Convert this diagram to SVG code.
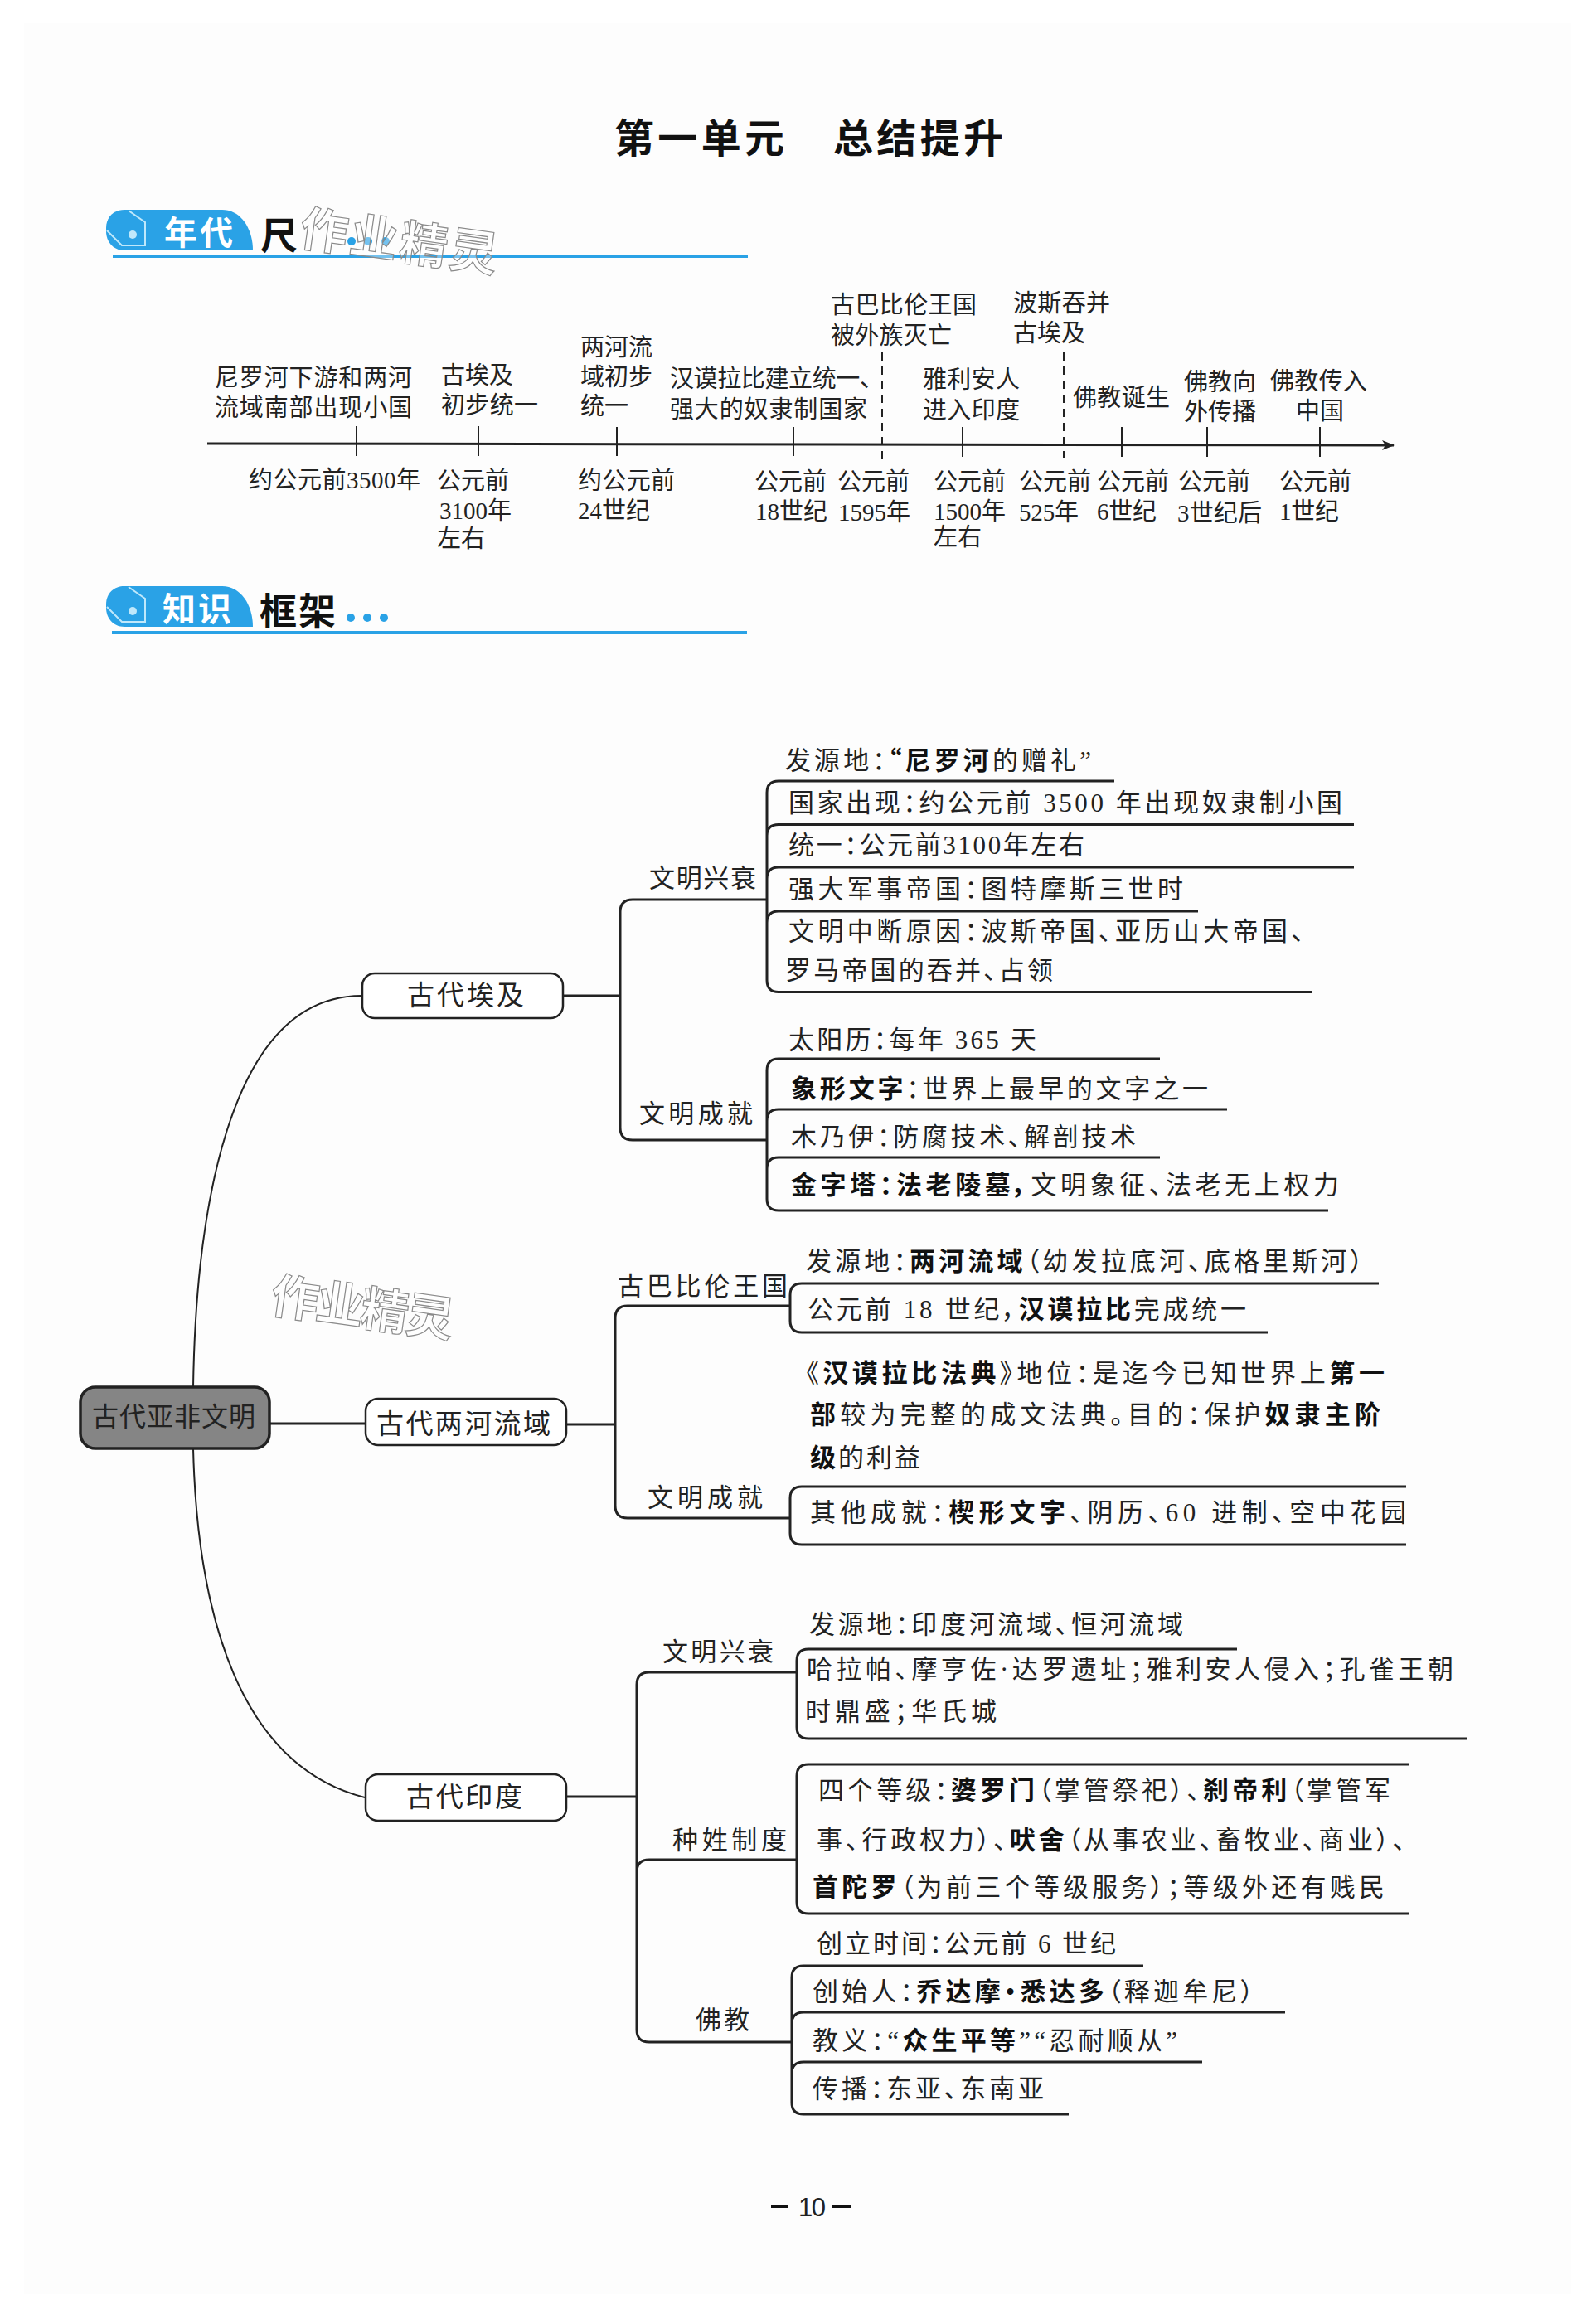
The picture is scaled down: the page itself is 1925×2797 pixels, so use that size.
<svg xmlns="http://www.w3.org/2000/svg" width="1925" height="2797" viewBox="0 0 1925 2797">
<style>
text{font-family:"Liberation Serif","Noto Sans CJK SC",serif;fill:#222}
.t{font-size:29px}
.i{font-size:31px;font-feature-settings:"palt"}
.n{font-size:33px}
.b{font-weight:700;font-family:"Noto Sans CJK SC",sans-serif;fill:#111}
.l{fill:none;stroke:#222;stroke-width:3}
.k{fill:none;stroke:#222;stroke-width:2}
.box{fill:#fff;stroke:#222;stroke-width:2.5}
.bl{fill:#2aa2e6}
.wm{font-family:"Noto Sans CJK SC",sans-serif;font-weight:700;font-size:58px;fill:#fff;fill-opacity:.35;stroke:#8a8a8a;stroke-width:1.2}
.h{font-family:"Noto Sans CJK SC",sans-serif;font-weight:700;font-size:45px;fill:#111}
.hw{font-family:"Noto Sans CJK SC",sans-serif;font-weight:700;font-size:40px;fill:#fff}
</style>
<defs>
<marker id="arr" markerWidth="16" markerHeight="12" refX="14" refY="6" orient="auto" markerUnits="userSpaceOnUse"><path d="M0 0L15 6L0 12L4 6Z" fill="#222"/></marker>
<g id="tag"><path class="bl" d="M150 0H268C290 0 305 22 305 49H150C136 49 128 38 128 26V22C128 8 138 0 150 0Z"/><path d="M155 1L175 15V43H147L129 25" fill="none" stroke="#bfe8fb" stroke-width="2"/><circle cx="160" cy="30" r="5" fill="#bfe8fb"/></g>
</defs>
<rect width="1925" height="2797" fill="#fff"/>
<rect x="29" y="28" width="1866" height="2739" fill="#fdfdfd"/>

<g id="title"><text x="741" y="184" textLength="205" class="b" style="font-size:48px">第一单元</text><text x="1005" y="184" textLength="205" class="b" style="font-size:48px">总结提升</text></g>

<g id="header1">
<use href="#tag" y="253"/>
<rect x="136" y="307" width="766" height="4" class="bl"/>
<circle cx="424" cy="291" r="5" class="bl"/><circle cx="444" cy="291" r="5" class="bl"/><circle cx="465" cy="291" r="5" class="bl"/>
<text x="198" y="295" textLength="83" class="hw">年代</text>
<text x="314" y="301" class="h">尺</text>
<text x="360" y="312" textLength="240" class="wm" transform="rotate(8 480 300)">作业精灵</text>
</g>
<g id="header2">
<use href="#tag" y="707"/>
<rect x="135" y="761" width="766" height="4" class="bl"/>
<text x="196" y="749" textLength="83" class="hw">知识</text>
<text x="313" y="754" textLength="92" class="h">框架</text>
<circle cx="423" cy="745" r="5" class="bl"/><circle cx="443" cy="745" r="5" class="bl"/><circle cx="463" cy="745" r="5" class="bl"/>
</g>

<g id="timeline">
<path class="l" d="M250 535L1681 537" marker-end="url(#arr)"/>
<path class="k" d="M430 514V550M577 514V550M744 515V550M957 515V550M1161 515V551M1353 515V551M1456 515V551M1592 515V551"/>
<path class="k" d="M1064 425V555M1283 425V553" stroke-dasharray="10 7"/>
<g class="t">
<text x="259" y="466" textLength="238">尼罗河下游和两河</text><text x="259" y="502" textLength="238">流域南部出现小国</text>
<text x="532" y="463" textLength="87">古埃及</text><text x="532" y="499" textLength="117">初步统一</text>
<text x="700" y="429" textLength="87">两河流</text><text x="700" y="465" textLength="87">域初步</text><text x="700" y="500" textLength="58">统一</text>
<text x="808" y="467" textLength="258">汉谟拉比建立统一、</text><text x="808" y="504" textLength="238">强大的奴隶制国家</text>
<text x="1002" y="378" textLength="176">古巴比伦王国</text><text x="1002" y="415" textLength="146">被外族灭亡</text>
<text x="1222" y="376" textLength="117">波斯吞并</text><text x="1222" y="412" textLength="87">古埃及</text>
<text x="1113" y="468" textLength="117">雅利安人</text><text x="1113" y="505" textLength="117">进入印度</text>
<text x="1294" y="490" textLength="117">佛教诞生</text>
<text x="1428" y="471" textLength="87">佛教向</text><text x="1428" y="507" textLength="87">外传播</text>
<text x="1532" y="470" textLength="117">佛教传入</text><text x="1563" y="506" textLength="58">中国</text>
<text x="300" y="589" textLength="207">约公元前3500年</text>
<text x="527" y="590" textLength="87">公元前</text><text x="530" y="626" textLength="87">3100年</text><text x="527" y="660" textLength="58">左右</text>
<text x="697" y="590" textLength="117">约公元前</text><text x="697" y="626" textLength="87">24世纪</text>
<text x="910" y="591" textLength="87">公元前</text><text x="911" y="627" textLength="87">18世纪</text>
<text x="1010" y="591" textLength="87">公元前</text><text x="1011" y="628" textLength="87">1595年</text>
<text x="1126" y="591" textLength="87">公元前</text><text x="1126" y="627" textLength="87">1500年</text><text x="1126" y="658" textLength="58">左右</text>
<text x="1229" y="591" textLength="87">公元前</text><text x="1229" y="628" textLength="72">525年</text>
<text x="1323" y="591" textLength="87">公元前</text><text x="1323" y="627" textLength="72">6世纪</text>
<text x="1421" y="591" textLength="87">公元前</text><text x="1420" y="629" textLength="102">3世纪后</text>
<text x="1543" y="591" textLength="87">公元前</text><text x="1543" y="627" textLength="72">1世纪</text>
</g>
</g>

<g id="connectors">
<path class="k" d="M233 1673C236 1480 270 1200 437 1201"/>
<path class="k" d="M233 1747C238 1950 290 2130 440 2168"/>
<path class="l" d="M324 1717H441M678 1201H748M683 1718H742M683 2167H768"/>
<path class="l" d="M925 1085H763Q748 1085 748 1100V1360Q748 1375 763 1375H925"/>
<path class="l" d="M953 1575H757Q742 1575 742 1590V1816Q742 1831 757 1831H953"/>
<path class="l" d="M961 2017H783Q768 2017 768 2032V2448Q768 2463 783 2463H955M961 2243H783Q768 2243 768 2258"/>
<path class="l" d="M1344 942H939Q925 942 925 956V1182Q925 1196.500 939 1196.500H1583M1633 994.500H939Q925 994.500 925 1008M1633 1046H939Q925 1046 925 1060M1445 1099H939Q925 1099 925 1113"/>
<path class="l" d="M1399 1277H939Q925 1277 925 1291V1446Q925 1460 939 1460H1602M1480 1338H939Q925 1338 925 1352M1399 1396H939Q925 1396 925 1410"/>
<path class="l" d="M1663 1548H967Q953 1548 953 1562V1593Q953 1607 967 1607H1529"/>
<path class="l" d="M1696 1793H967Q953 1793 953 1807V1849Q953 1863 967 1863H1696"/>
<path class="l" d="M1492 1989H975Q961 1989 961 2003V2083Q961 2097 975 2097H1770"/>
<path class="l" d="M1700 2128H975Q961 2128 961 2142V2294Q961 2308 975 2308H1700"/>
<path class="l" d="M1379 2371H969Q955 2371 955 2385V2536Q955 2550 969 2550H1289M1550 2427H969Q955 2427 955 2441M1450 2487H969Q955 2487 955 2501"/>
</g>

<g id="root"><rect x="97" y="1673" width="228" height="74" rx="18" fill="#858585" stroke="#222" stroke-width="3.500"/><text x="111" y="1720" textLength="197" class="n" style="font-size:32px">古代亚非文明</text></g>
<g id="egypt"><rect x="437" y="1174" width="242" height="54" rx="15" class="box"/><text x="491" y="1212" textLength="141" class="n">古代埃及</text></g>
<g id="meso"><rect x="441" y="1687" width="242" height="56" rx="15" class="box"/><text x="454" y="1729" textLength="210" class="n">古代两河流域</text></g>
<g id="india"><rect x="441" y="2140" width="242" height="56" rx="15" class="box"/><text x="490" y="2179" textLength="140" class="n">古代印度</text></g>

<g id="egypt-branches" transform="translate(0,-3)">
<text x="783" y="1073" textLength="129" class="i">文明兴衰</text>
<text x="771" y="1357" textLength="137" class="i">文明成就</text>
<text x="947" y="931" textLength="369" class="i">发源地：<tspan class="b">“尼罗河</tspan>的赠礼”</text>
<text x="951" y="982" textLength="668" class="i">国家出现：约公元前 3500 年出现奴隶制小国</text>
<text x="951" y="1033" textLength="357" class="i">统一：公元前3100年左右</text>
<text x="951" y="1086" textLength="476" class="i">强大军事帝国：图特摩斯三世时</text>
<text x="951" y="1137" textLength="622" class="i">文明中断原因：波斯帝国、亚历山大帝国、</text>
<text x="947" y="1184" textLength="323" class="i">罗马帝国的吞并、占领</text>
<text x="951" y="1268" textLength="299" class="i">太阳历：每年 365 天</text>
<text x="954" y="1327" textLength="503" class="i"><tspan class="b">象形文字</tspan>：世界上最早的文字之一</text>
<text x="954" y="1385" textLength="416" class="i">木乃伊：防腐技术、解剖技术</text>
<text x="954" y="1443" textLength="661" class="i"><tspan class="b">金字塔：法老陵墓，</tspan>文明象征、法老无上权力</text>
</g>

<g id="meso-branches" transform="translate(0,-3)">
<text x="745" y="1565" textLength="205" class="i">古巴比伦王国</text>
<text x="781" y="1820" textLength="139" class="i">文明成就</text>
<text x="972" y="1535" textLength="672" class="i">发源地：<tspan class="b">两河流域</tspan>（幼发拉底河、底格里斯河）</text>
<text x="974" y="1593" textLength="529" class="i">公元前 18 世纪，<tspan class="b">汉谟拉比</tspan>完成统一</text>
<text x="972" y="1670" textLength="698" class="i">《<tspan class="b">汉谟拉比法典</tspan>》地位：是迄今已知世界上<tspan class="b">第一</tspan></text>
<text x="977" y="1720" textLength="688" class="i"><tspan class="b">部</tspan>较为完整的成文法典。目的：保护<tspan class="b">奴隶主阶</tspan></text>
<text x="977" y="1772" textLength="133" class="i"><tspan class="b">级</tspan>的利益</text>
<text x="977" y="1838" textLength="719" class="i">其他成就：<tspan class="b">楔形文字</tspan>、阴历、60 进制、空中花园</text>
</g>

<g id="india-branches" transform="translate(0,-3)">
<text x="799" y="2006" textLength="134" class="i">文明兴衰</text>
<text x="811" y="2233" textLength="138" class="i">种姓制度</text>
<text x="839" y="2450" textLength="65" class="i">佛教</text>
<text x="976" y="1973" textLength="451" class="i">发源地：印度河流域、恒河流域</text>
<text x="973" y="2027" textLength="780" class="i">哈拉帕、摩亨佐·达罗遗址；雅利安人侵入；孔雀王朝</text>
<text x="971" y="2078" textLength="231" class="i">时鼎盛；华氏城</text>
<text x="987" y="2173" textLength="690" class="i">四个等级：<tspan class="b">婆罗门</tspan>（掌管祭祀）、<tspan class="b">刹帝利</tspan>（掌管军</text>
<text x="985" y="2233" textLength="710" class="i">事、行政权力）、<tspan class="b">吠舍</tspan>（从事农业、畜牧业、商业）、</text>
<text x="980" y="2290" textLength="690" class="i"><tspan class="b">首陀罗</tspan>（为前三个等级服务）；等级外还有贱民</text>
<text x="985" y="2358" textLength="361" class="i">创立时间：公元前 6 世纪</text>
<text x="980" y="2416" textLength="532" class="i">创始人：<tspan class="b">乔达摩·悉达多</tspan>（释迦牟尼）</text>
<text x="980" y="2475" textLength="440" class="i">教义：“<tspan class="b">众生平等</tspan>”“忍耐顺从”</text>
<text x="980" y="2533" textLength="279" class="i">传播：东亚、东南亚</text>
</g>

<text id="watermark2" x="326" y="1598" textLength="222" class="wm" transform="rotate(8 436 1580)">作业精灵</text>
<g id="page"><rect x="930" y="2660" width="20" height="3" fill="#111"/><rect x="1003" y="2660" width="23" height="3" fill="#111"/><text x="963" y="2673" textLength="33" style="font-family:'Liberation Sans',sans-serif;font-size:31px">10</text></g>
</svg>
